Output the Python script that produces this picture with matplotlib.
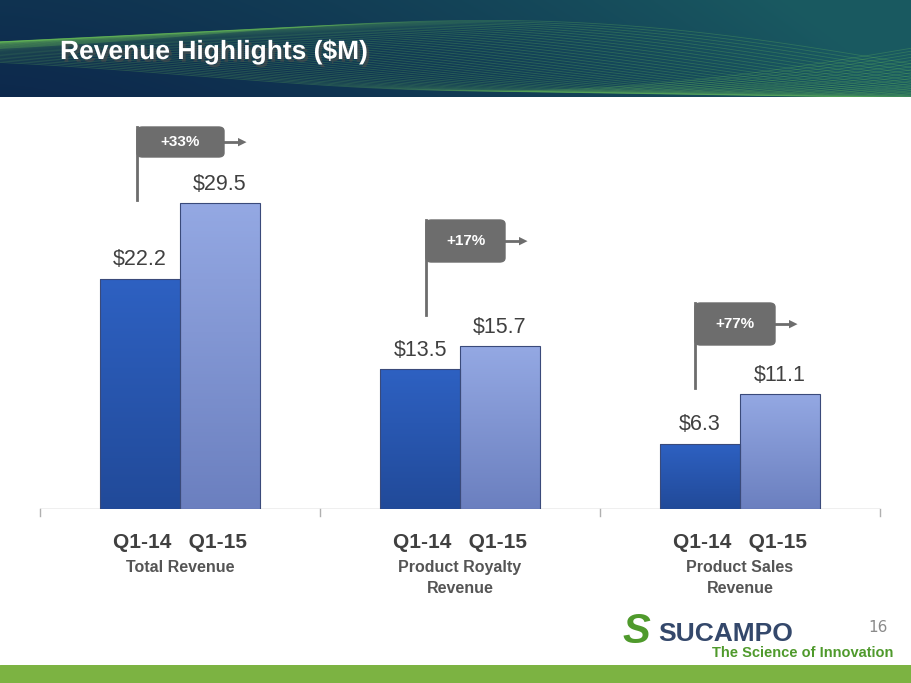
import numpy as np
import matplotlib.pyplot as plt
import matplotlib.patheffects as pe
from matplotlib.patches import FancyBboxPatch, Rectangle

groups = ["Total Revenue", "Product Royalty\nRevenue", "Product Sales\nRevenue"]
q114 = [22.2, 13.5, 6.3]
q115 = [29.5, 15.7, 11.1]
growth = ["+33%", "+17%", "+77%"]

W, H = 911, 683
fig = plt.figure(figsize=(W / 100, H / 100), dpi=100)

# header band
hdr = fig.add_axes([0, 1 - 97 / H, 1, 97 / H])
hdr.set_axis_off()
gx = np.linspace(0, 1, 400)
gy = np.linspace(0, 1, 60)
X, Y = np.meshgrid(gx, gy)
c0 = np.array([0.05, 0.16, 0.30])
c1 = np.array([0.10, 0.35, 0.38])
t = np.clip(X ** 1.5 + 0.2 * Y, 0, 1)[..., None]
hdr.imshow(c0 * (1 - t) + c1 * t, extent=[0, 1, 0, 1], aspect="auto", origin="lower")
xs = np.linspace(0, 1, 300)
for k in range(40):
    yy = 0.5 + 0.45 * np.sin(3.5 * xs + k * 0.08) * (0.3 + 0.7 * xs) - 0.15 * k / 40
    hdr.plot(xs, yy, color=(0.45, 0.8, 0.35), lw=0.6, alpha=0.25)
hdr.set_xlim(0, 1)
hdr.set_ylim(0, 1)
fig.text(60 / W, 1 - 52 / H, "Revenue Highlights ($M)", color="white",
         fontsize=19, fontweight="bold", va="center", family="Liberation Sans",
         path_effects=[pe.withSimplePatchShadow(offset=(2, -2), alpha=0.6)])

# footer band
ft = fig.add_axes([0, 0, 1, 18 / H])
ft.set_axis_off()
ft.add_patch(Rectangle((0, 0), 1, 1, color="#7cb342"))

# chart
ax = fig.add_axes([40 / W, 1 - 509 / H, 840 / W, 415 / H])
ax.set_xlim(-0.5, 2.5)
ax.set_ylim(0, 415 / 10.37)
ax.set_axis_off()
ax.axhline(0, color="#b0b0b0", lw=1)
for xt in [-0.5, 0.5, 1.5, 2.5]:
    ax.plot([xt, xt], [0, -0.7], color="#b0b0b0", lw=1, clip_on=False)

bw = 0.285
grad = np.linspace(0, 1, 100)[:, None]


def gbar(x, h, ca, cb):
    r = Rectangle((x, 0), bw, h, facecolor="none", edgecolor="#3a4a7a", lw=0.8, zorder=3)
    ax.add_patch(r)
    img = np.array(ca) * (1 - grad[..., None]) + np.array(cb) * grad[..., None]
    im = ax.imshow(img, extent=[x, x + bw, 0, h], aspect="auto", origin="upper", zorder=2)
    im.set_clip_path(r)


for i in range(3):
    gbar(i - bw, q114[i], (0.18, 0.38, 0.76), (0.13, 0.29, 0.60))
    gbar(i, q115[i], (0.58, 0.66, 0.89), (0.42, 0.50, 0.75))
    ax.text(i - bw / 2, q114[i] + 0.8, f"${q114[i]}", ha="center", va="bottom",
            fontsize=15.5, color="#404040", family="Liberation Sans")
    ax.text(i + bw / 2, q115[i] + 0.8, f"${q115[i]}", ha="center", va="bottom",
            fontsize=15.5, color="#404040", family="Liberation Sans")
    ax.text(i, -2.3, "Q1-14   Q1-15", ha="center", va="top", fontsize=15,
            fontweight="bold", color="#404040", family="Liberation Sans")
    ax.text(i, -4.9, groups[i], ha="center", va="top", fontsize=11.5,
            fontweight="bold", color="#555555", family="Liberation Sans", linespacing=1.5)

# callouts (pixel layout)
boxes = [(137, 127, 87, 30, 200), (426, 220, 79, 42, 315), (695, 303, 80, 42, 388)]
for (bx, by, bwid, bh, ly), g in zip(boxes, growth):
    fig.add_artist(FancyBboxPatch((bx / W, 1 - (by + bh) / H), bwid / W, bh / H,
                                  boxstyle="round,pad=0,rounding_size=0.006",
                                  transform=fig.transFigure, color="#6d6d6d"))
    fig.add_artist(plt.Line2D([bx / W, bx / W], [1 - by / H, 1 - ly / H],
                              color="#6d6d6d", lw=2, transform=fig.transFigure))
    fig.add_artist(plt.Line2D([(bx + bwid) / W, (bx + bwid + 14) / W],
                              [1 - (by + bh / 2) / H] * 2, color="#6d6d6d", lw=2,
                              transform=fig.transFigure))
    fig.text((bx + bwid + 18) / W, 1 - (by + bh / 2) / H, "▶", color="#6d6d6d",
             fontsize=8, ha="center", va="center")
    fig.text((bx + bwid / 2) / W, 1 - (by + bh / 2) / H, g, color="white",
             fontsize=11, fontweight="bold", ha="center", va="center",
             family="Liberation Sans")

# logo and page number
fig.text(888 / W, 1 - 627 / H, "16", color="#8a8a8a", fontsize=11, ha="right", va="center")
fig.text(658 / W, 1 - 634 / H, "SUCAMPO", color="#34486b", fontsize=19,
         fontweight="bold", va="center", family="Liberation Sans")
fig.text(712 / W, 1 - 653 / H, "The Science of Innovation", color="#4f9a2c",
         fontsize=10.5, fontweight="bold", va="center", family="Liberation Sans")
fig.text(636 / W, 1 - 632 / H, "S", color="#4f9a2c", fontsize=30,
         fontweight="bold", ha="center", va="center", family="Liberation Sans", style="italic")

fig.savefig("out.png", dpi=100)
